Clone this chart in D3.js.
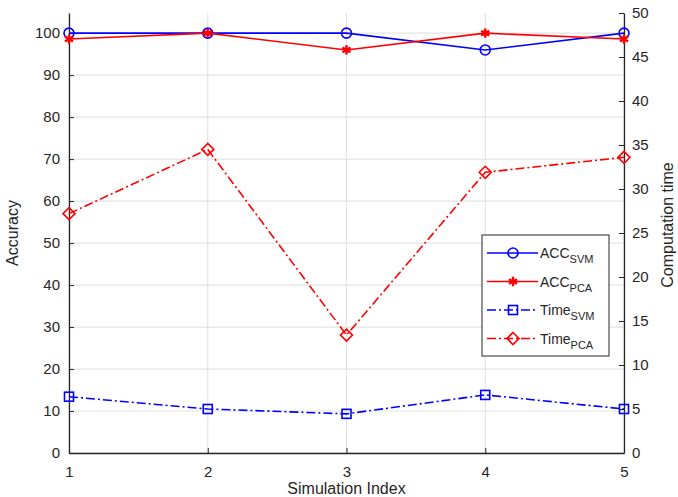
<!DOCTYPE html>
<html>
<head>
<meta charset="utf-8">
<script src="https://cdn.jsdelivr.net/npm/d3@7"></script>
<style>
  body { margin: 0; background: #fff; }
  text { font-family: "Liberation Sans", Arial, sans-serif; }
</style>
</head>
<body>
<div id="chart"></div>
<script>
// data
const simIndex = [1, 2, 3, 4, 5];
const accSvm = [100, 100, 100, 96, 100];
const accPca = [98.6, 100, 96, 100, 98.6];
const timeSvm = [6.4, 5.0, 4.45, 6.6, 5.0];
const timePca = [27.2, 34.5, 13.4, 31.9, 33.6];
const leftTicks = [0, 10, 20, 30, 40, 50, 60, 70, 80, 90, 100];
const rightTicks = [0, 5, 10, 15, 20, 25, 30, 35, 40, 45, 50];

const W = 678, H = 497;
const margin = { top: 13, right: 54, bottom: 44, left: 69 },
    width = W - margin.left - margin.right,
    height = H - margin.top - margin.bottom;

const svg = d3.select("#chart")
    .append("svg")
    .attr("width", W)
    .attr("height", H)
    .append("g")
    .attr("transform", `translate(${margin.left},${margin.top})`);

const x = d3.scaleLinear().domain([1, 5]).range([0, width]);
const yL = d3.scaleLinear().domain([0, 104.8]).range([height, 0]);
const yR = d3.scaleLinear().domain([0, 50]).range([height, 0]);

// grid
svg.append("g")
    .selectAll("line.h")
    .data(leftTicks)
    .enter().append("line")
    .attr("x1", 0).attr("x2", width)
    .attr("y1", d => yL(d)).attr("y2", d => yL(d))
    .style("stroke", "#e3e3e3").style("stroke-width", 1.2);
svg.append("g")
    .selectAll("line.v")
    .data(simIndex)
    .enter().append("line")
    .attr("x1", d => x(d)).attr("x2", d => x(d))
    .attr("y1", 0).attr("y2", height)
    .style("stroke", "#e3e3e3").style("stroke-width", 1.2);

// axes
const axisColor = "#262626";
function styleAxis(g) {
    g.selectAll("path").style("stroke", axisColor).style("stroke-width", 1.3);
    g.selectAll("line").style("stroke", axisColor);
    g.selectAll("text").style("fill", axisColor).style("font-size", "15px");
}
svg.append("g")
    .attr("transform", `translate(0,${height})`)
    .call(d3.axisBottom(x).tickValues(simIndex).tickFormat(d3.format("d")).tickSizeInner(-5).tickSizeOuter(0).tickPadding(13))
    .call(styleAxis);
svg.append("g")
    .call(d3.axisLeft(yL).tickValues(leftTicks).tickSizeInner(-5).tickSizeOuter(0).tickPadding(9))
    .call(styleAxis);
svg.append("g")
    .attr("transform", `translate(${width},0)`)
    .call(d3.axisRight(yR).tickValues(rightTicks).tickSizeInner(-5).tickSizeOuter(0).tickPadding(8))
    .call(styleAxis);

// axis labels
svg.append("text")
    .attr("transform", `translate(${-51},${height / 2}) rotate(-90)`)
    .attr("text-anchor", "middle")
    .style("font-size", "16px").style("fill", axisColor)
    .text("Accuracy");
svg.append("text")
    .attr("transform", `translate(${width + 49},${height / 2 - 8}) rotate(-90)`)
    .attr("text-anchor", "middle")
    .style("font-size", "16px").style("fill", axisColor)
    .text("Computation time");
svg.append("text")
    .attr("x", width / 2).attr("y", height + 41)
    .attr("text-anchor", "middle")
    .style("font-size", "16px").style("fill", axisColor)
    .text("Simulation Index");

// series
const series = [
    { key: "ACC", sub: "SVM", values: accSvm, y: yL, color: "#0000ff", dash: null, marker: "circle" },
    { key: "ACC", sub: "PCA", values: accPca, y: yL, color: "#ff0000", dash: null, marker: "star" },
    { key: "Time", sub: "SVM", values: timeSvm, y: yR, color: "#0000ff", dash: "9,3,2,3", marker: "square" },
    { key: "Time", sub: "PCA", values: timePca, y: yR, color: "#ff0000", dash: "9,3,2,3", marker: "diamond" }
];

function drawMarker(g, type, color) {
    if (type === "circle") {
        g.append("circle").attr("r", 5).style("fill", "none").style("stroke", color).style("stroke-width", 1.6);
    } else if (type === "square") {
        g.append("rect").attr("x", -4.5).attr("y", -4.5).attr("width", 9).attr("height", 9)
            .style("fill", "none").style("stroke", color).style("stroke-width", 1.6);
    } else if (type === "diamond") {
        g.append("path").attr("d", "M0,-6L6,0L0,6L-6,0Z")
            .style("fill", "none").style("stroke", color).style("stroke-width", 1.6);
    } else {
        g.append("path").attr("d", d3.symbol(d3.symbolAsterisk, 60)())
            .style("fill", "none").style("stroke", color).style("stroke-width", 2.4);
    }
}

series.forEach(s => {
    const line = d3.line()
        .x((d, i) => x(simIndex[i]))
        .y(d => s.y(d));
    svg.append("path")
        .datum(s.values)
        .attr("d", line)
        .style("fill", "none")
        .style("stroke", s.color)
        .style("stroke-width", 1.6)
        .style("stroke-dasharray", s.dash);
    s.values.forEach((v, i) => {
        const g = svg.append("g").attr("transform", `translate(${x(simIndex[i])},${s.y(v)})`);
        drawMarker(g, s.marker, s.color);
    });
});

// legend
const lg = svg.append("g").attr("transform", `translate(${482 - margin.left},${235 - margin.top})`);
lg.append("rect")
    .attr("width", 127).attr("height", 121)
    .style("fill", "#fff").style("stroke", axisColor).style("stroke-width", 1);
series.forEach((s, i) => {
    const yy = 18 + i * 28.5;
    lg.append("line")
        .attr("x1", 5).attr("x2", 56).attr("y1", yy).attr("y2", yy)
        .style("stroke", s.color).style("stroke-width", 1.6)
        .style("stroke-dasharray", s.dash);
    const m = lg.append("g").attr("transform", `translate(31,${yy})`);
    drawMarker(m, s.marker, s.color);
    const t = lg.append("text")
        .attr("x", 58).attr("y", yy + 5)
        .style("font-size", "14px").style("fill", axisColor);
    t.append("tspan").text(s.key);
    t.append("tspan").attr("dy", 5).style("font-size", "11px").text(s.sub);
});
</script>
</body>
</html>
